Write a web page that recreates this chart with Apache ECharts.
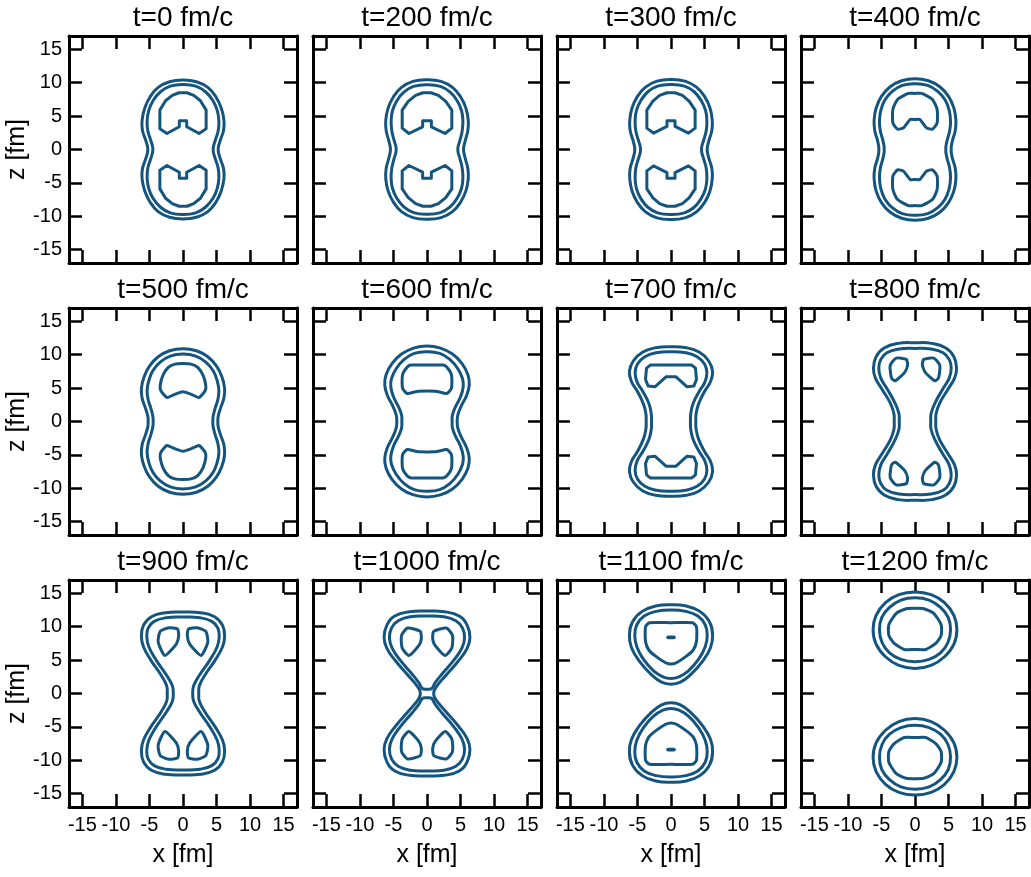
<!DOCTYPE html>
<html>
<head>
<meta charset="utf-8">
<script src="https://cdn.jsdelivr.net/npm/echarts@6/dist/echarts.min.js"></script>
<style>
  html, body { margin: 0; padding: 0; background: #ffffff; }
  #chart { width: 1031px; height: 877px; }
</style>
</head>
<body>
<div id="chart"></div>
<script>
// Density contours of the fissioning nucleus in the x–z plane, 12 time snapshots.
const times = ['t=0 fm/c', 't=200 fm/c', 't=300 fm/c', 't=400 fm/c',
               't=500 fm/c', 't=600 fm/c', 't=700 fm/c', 't=800 fm/c',
               't=900 fm/c', 't=1000 fm/c', 't=1100 fm/c', 't=1200 fm/c'];

const tickValues = [-15, -10, -5, 0, 5, 10, 15];
const tickLabels = ['-15', '-10', '-5', '0', '5', '10', '15'];

// Contour points [x, z] in fm.
// "quarter": first-quadrant arc from the top (x=0) down to z=0, reflected in x and z.
// "half":    right half of a loop above z=0, from x=0 back to x=0, reflected in x, lobe repeated below.
// "blob":    closed loop in the first quadrant, repeated in all four quadrants.
const p0Outer  = [[0,10.4],[2.0,10.15],[3.7,9.3],[4.9,7.9],[5.7,6.2],[6.1,4.4],[6.05,2.9],[5.6,1.5],[5.3,0.5],[5.25,0]];
const p0Middle = [[0,9.75],[1.9,9.5],[3.35,8.65],[4.45,7.35],[5.1,5.85],[5.35,4.3],[5.25,2.8],[4.85,1.5],[4.55,0.5],[4.5,0]];
const p0Inner  = [[0,8.5],[0.6,8.5],[1.6,8.1],[2.6,7.3],[3.45,5.9],[3.45,3.1],[2.4,2.4],[0.55,3.4],[0.55,4.3],[0,4.3]];

const p200Outer  = [[0,10.45],[2.1,10.2],[3.8,9.3],[5.0,7.9],[5.8,6.2],[6.15,4.4],[6.1,2.9],[5.75,1.5],[5.5,0.5],[5.45,0]];
const p200Middle = [[0,9.7],[2.0,9.45],[3.45,8.6],[4.5,7.3],[5.15,5.8],[5.35,4.3],[5.25,2.8],[4.95,1.5],[4.65,0.5],[4.6,0]];
const p200Inner  = [[0,8.5],[0.6,8.5],[1.7,8.1],[2.8,7.2],[3.7,5.9],[3.7,3.2],[2.7,2.4],[0.65,3.4],[0.65,4.3],[0,4.3]];

const p300Outer  = [[0,10.5],[2.1,10.25],[3.8,9.35],[5.0,7.95],[5.8,6.25],[6.15,4.4],[6.1,2.9],[5.7,1.5],[5.45,0.5],[5.4,0]];
const p300Middle = [[0,9.75],[2.0,9.5],[3.45,8.65],[4.5,7.35],[5.15,5.85],[5.35,4.3],[5.25,2.8],[4.9,1.5],[4.6,0.5],[4.55,0]];
const p300Inner  = [[0,8.5],[0.6,8.5],[1.7,8.1],[2.7,7.25],[3.6,5.9],[3.6,3.2],[2.6,2.45],[0.6,3.45],[0.6,4.3],[0,4.3]];

const p400Outer  = [[0,10.6],[2.0,10.3],[3.7,9.4],[5.0,7.95],[5.8,6.2],[6.1,4.4],[6.0,2.8],[5.6,1.4],[5.4,0.4],[5.4,0]];
const p400Middle = [[0,9.85],[1.9,9.6],[3.4,8.7],[4.5,7.4],[5.1,5.85],[5.3,4.2],[5.15,2.7],[4.8,1.4],[4.6,0.4],[4.6,0]];
const p400Inner  = [[0,8.4],[1.0,8.4],[2.6,7.5],[3.3,6.0],[3.3,4.0],[2.6,3.05],[1.7,3.25],[1.2,3.9],[0.7,4.5],[0,4.5]];

const p500Outer  = [[0,10.9],[2.0,10.6],[3.7,9.7],[5.0,8.3],[5.8,6.7],[6.2,5.0],[6.1,3.5],[5.6,2.0],[5.25,0.8],[5.2,0]];
const p500Middle = [[0,10.1],[1.9,9.8],[3.4,8.9],[4.5,7.6],[5.1,6.1],[5.35,4.7],[5.2,3.3],[4.8,2.0],[4.5,0.8],[4.45,0]];
const p500Inner  = [[0,8.7],[1.2,8.6],[2.2,8.1],[3.0,6.9],[3.4,5.4],[3.3,4.6],[2.4,3.6],[1.4,4.0],[0,4.45]];

const p600Outer  = [[0,11.3],[2.0,11.0],[3.8,10.1],[5.2,8.7],[6.1,7.0],[6.3,5.5],[5.9,3.9],[5.1,2.3],[4.6,1.0],[4.5,0]];
const p600Middle = [[0,10.45],[1.9,10.2],[3.4,9.3],[4.6,7.9],[5.3,6.4],[5.4,5.2],[5.0,3.7],[4.3,2.3],[3.8,1.0],[3.75,0]];
const p600Inner  = [[0,8.45],[2.4,8.45],[3.0,8.1],[3.65,7.0],[3.65,5.0],[2.95,4.2],[1.5,4.5],[0,4.55]];

const p700Outer  = [[0,11.2],[2.3,11.05],[4.2,10.4],[5.6,9.1],[6.2,7.5],[5.9,6.0],[5.0,4.5],[4.1,2.6],[3.75,1.2],[3.7,0]];
const p700Middle = [[0,10.45],[2.2,10.3],[3.9,9.7],[5.0,8.6],[5.35,7.3],[5.05,5.9],[4.2,4.5],[3.3,2.7],[2.95,1.2],[2.9,0]];
const p700Inner  = [[0,8.45],[3.1,8.45],[3.65,8.0],[3.8,6.3],[3.4,5.3],[2.4,5.2],[0.75,6.7],[0,6.7]];

const p800Outer  = [[0,11.8],[2.5,11.7],[4.6,11.0],[5.8,9.7],[6.2,8.0],[5.9,6.5],[4.9,4.8],[3.7,2.8],[3.15,1.2],[3.1,0]];
const p800Middle = [[0,10.95],[2.4,10.85],[4.2,10.3],[5.1,9.3],[5.4,8.0],[5.1,6.5],[4.1,4.8],[3.0,2.8],[2.4,1.2],[2.35,0]];
const p800Blob   = [[1.3,9.3],[2.8,9.5],[3.7,8.4],[3.5,6.5],[2.95,6.1],[1.5,7.4],[1.1,8.5]];

const p900Outer  = [[0,12.2],[2.6,12.1],[4.7,11.5],[5.9,10.2],[6.2,8.5],[5.9,7.0],[4.8,5.0],[3.3,2.8],[2.45,1.2],[2.35,0]];
const p900Middle = [[0,11.45],[2.5,11.35],[4.3,10.8],[5.2,9.8],[5.4,8.5],[5.1,7.0],[4.0,5.0],[2.5,2.8],[1.6,1.2],[1.45,0]];
const p900Blob   = [[0.8,9.65],[2.1,9.85],[3.4,9.3],[3.7,7.7],[2.7,5.7],[1.0,7.4],[0.65,8.6]];

const p1000Outer  = [[0,12.35],[2.6,12.25],[4.8,11.6],[6.0,10.2],[6.4,8.4],[6.0,6.8],[4.7,4.9],[2.9,2.8],[1.6,1.3],[1.1,0.5],[1.0,0]];
const p1000Middle = [[0,11.6],[2.5,11.5],[4.3,10.9],[5.3,9.8],[5.6,8.3],[5.2,6.8],[4.0,5.0],[2.3,3.0],[1.2,1.6],[0.7,0.75],[0,0.65]];
const p1000Blob   = [[1.0,9.3],[2.9,9.8],[3.8,8.7],[3.7,6.8],[2.7,5.7],[1.2,7.2],[0.85,8.2]];

const p1100Outer  = [[0,13.3],[2.3,13.1],[4.3,12.3],[5.7,10.8],[6.2,8.8],[5.9,6.9],[4.7,4.8],[3.0,2.9],[1.4,1.7],[0,1.4]];
const p1100Middle = [[0,12.5],[2.2,12.3],[4.0,11.6],[5.1,10.3],[5.4,8.7],[5.1,7.0],[4.1,5.1],[2.6,3.4],[1.2,2.5],[0,2.25]];
const p1100Inner  = [[0,10.6],[3.2,10.6],[3.8,10.0],[3.8,7.8],[3.3,6.5],[2.3,5.6],[0.8,4.6],[0,4.4]];
const p1100Core   = [[0,8.45],[0.45,8.45],[0.5,8.4],[0.45,8.35],[0,8.35]];

const p1200Outer  = [[0,15.2],[2.4,14.8],[4.4,13.6],[5.8,11.7],[6.25,9.6],[5.8,7.4],[4.4,5.5],[2.4,4.2],[0,3.75]];
const p1200Middle = [[0,14.35],[2.1,14.0],[3.8,12.9],[4.95,11.4],[5.3,9.5],[4.9,7.6],[3.8,6.1],[2.1,5.1],[0,4.75]];
const p1200Inner  = [[0,12.75],[1.3,12.7],[2.8,12.0],[3.9,10.3],[3.9,8.7],[3.1,7.5],[1.6,6.6],[0,6.6]];

// Which curves belong to each snapshot, with their symmetry and contour level.
const panelCurves = [
  [[p0Outer, 'quarter', 'outer'], [p0Middle, 'quarter', 'outer'], [p0Inner, 'half', 'inner']],
  [[p200Outer, 'quarter', 'outer'], [p200Middle, 'quarter', 'outer'], [p200Inner, 'half', 'inner']],
  [[p300Outer, 'quarter', 'outer'], [p300Middle, 'quarter', 'outer'], [p300Inner, 'half', 'inner']],
  [[p400Outer, 'quarter', 'outer'], [p400Middle, 'quarter', 'outer'], [p400Inner, 'half', 'soft']],
  [[p500Outer, 'quarter', 'outer'], [p500Middle, 'quarter', 'outer'], [p500Inner, 'half', 'soft']],
  [[p600Outer, 'quarter', 'outer'], [p600Middle, 'quarter', 'outer'], [p600Inner, 'half', 'soft']],
  [[p700Outer, 'quarter', 'outer'], [p700Middle, 'quarter', 'outer'], [p700Inner, 'half', 'inner']],
  [[p800Outer, 'quarter', 'outer'], [p800Middle, 'quarter', 'outer'], [p800Blob, 'blob', 'soft']],
  [[p900Outer, 'quarter', 'outer'], [p900Middle, 'quarter', 'outer'], [p900Blob, 'blob', 'soft']],
  [[p1000Outer, 'quarter', 'outer'], [p1000Middle, 'half', 'outer'], [p1000Blob, 'blob', 'soft']],
  [[p1100Outer, 'half', 'outer'], [p1100Middle, 'half', 'outer'], [p1100Inner, 'half', 'soft'], [p1100Core, 'half', 'inner']],
  [[p1200Outer, 'half', 'outer'], [p1200Middle, 'half', 'outer'], [p1200Inner, 'half', 'soft']]
];

const LINE_COLOR = '#14557f';
const FONT = '"Liberation Sans", Arial, Helvetica, sans-serif';
const smoothByLevel = { outer: 0.45, soft: 0.2, inner: 0 };

// Expand a stored curve into closed loops using the x/z reflection symmetry.
function buildLoops(pts, sym) {
  const flipX = p => [-p[0], p[1]];
  const flipZ = p => [p[0], -p[1]];
  if (sym === 'quarter') {
    const right = pts.concat(pts.slice(0, -1).reverse().map(flipZ));
    const left = right.slice(1, -1).reverse().map(flipX);
    return [right.concat(left)];
  }
  if (sym === 'half') {
    const upper = pts.concat(pts.slice(1, -1).reverse().map(flipX));
    return [upper, upper.map(flipZ)];
  }
  // blob
  return [pts, pts.map(flipX), pts.map(flipZ), pts.map(p => [-p[0], -p[1]])];
}

const LEFT0 = 69, TOP0 = 36, DX = 244, DY = 272, W = 228, H = 227;

const grids = [], xAxes = [], yAxes = [], titles = [], series = [];

function tickFormatter(v) {
  const k = tickValues.indexOf(v);
  return k >= 0 ? tickLabels[k] : '';
}

for (let i = 0; i < 12; i++) {
  const r = Math.floor(i / 4), c = i % 4;
  const left = LEFT0 + DX * c, top = TOP0 + DY * r;
  grids.push({ left: left, top: top, width: W, height: H, containLabel: false });

  titles.push({
    text: times[i],
    left: left + W / 2,
    top: top - 32,
    textAlign: 'center',
    padding: 0,
    textStyle: { fontSize: 28, fontWeight: 'normal', color: '#000', fontFamily: FONT }
  });

  const common = (pos, showLabel, name) => ({
    gridIndex: i,
    type: 'value',
    min: -17,
    max: 17,
    position: pos,
    splitLine: { show: false },
    axisLine: { show: true, onZero: false, lineStyle: { color: '#000', width: 3 } },
    axisTick: { show: true, inside: true, length: 13, customValues: tickValues,
                lineStyle: { color: '#000', width: 2.5 } },
    axisLabel: { show: showLabel, customValues: tickValues, formatter: tickFormatter,
                 fontSize: 20, color: '#000', fontFamily: FONT, margin: 7 },
    name: name,
    nameLocation: 'middle',
    nameTextStyle: { fontSize: 25, color: '#000', fontFamily: FONT }
  });

  const xb = common('bottom', r === 2, r === 2 ? 'x [fm]' : '');
  xb.nameGap = 36;
  xb.axisLabel.margin = 8;
  xAxes.push(xb);
  xAxes.push(common('top', false, ''));

  const yl = common('left', c === 0, c === 0 ? 'z [fm]' : '');
  yl.nameGap = 37;
  yl.nameRotate = 90;
  yAxes.push(yl);
  yAxes.push(common('right', false, ''));

  const loops = [];
  panelCurves[i].forEach(([pts, sym, level]) => {
    buildLoops(pts, sym).forEach(loop => loops.push({ loop: loop, smooth: smoothByLevel[level] }));
  });

  series.push({
    type: 'custom',
    xAxisIndex: 2 * i,
    yAxisIndex: 2 * i,
    silent: true,
    animation: false,
    data: loops.map((_, k) => [0, 0, k]),
    renderItem: function (params, api) {
      const item = loops[params.dataIndex];
      const points = item.loop.map(p => api.coord(p));
      return {
        type: 'polygon',
        shape: { points: points, smooth: item.smooth },
        style: { fill: 'none', stroke: LINE_COLOR, lineWidth: 3, lineJoin: 'round' }
      };
    }
  });
}

const chart = echarts.init(document.getElementById('chart'), null, { renderer: 'canvas' });
chart.setOption({
  backgroundColor: '#ffffff',
  animation: false,
  title: titles,
  grid: grids,
  xAxis: xAxes,
  yAxis: yAxes,
  series: series
});
</script>
</body>
</html>
